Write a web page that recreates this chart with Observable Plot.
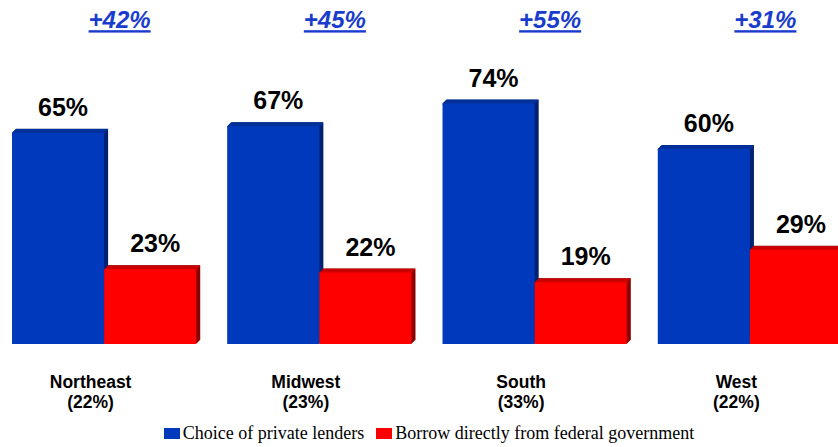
<!DOCTYPE html>
<html>
<head>
<meta charset="utf-8">
<script src="https://cdn.jsdelivr.net/npm/d3@7"></script>
<script src="https://cdn.jsdelivr.net/npm/@observablehq/plot@0.6"></script>
<style>
  html, body { margin: 0; padding: 0; background: #fff; overflow: hidden; }
  #chart { width: 838px; }
  .legend { display: flex; justify-content: center; align-items: center; height: 27px;
    font-family: "Liberation Serif", "Times New Roman", serif; font-size: 18px; color: #000; padding-left: 32px; }
  .legend span.sw { display: inline-block; width: 16px; height: 11px; margin-right: 3px; }
  .legend .item { display: inline-flex; align-items: center; margin-right: 12px; }
  g.gap-labels text { text-decoration: underline; }
</style>
</head>
<body>
<div id="chart"></div>
<script>
// ---- data ----
const regions = ["Northeast", "Midwest", "South", "West"];
const regionShare = [22, 23, 33, 22];
const privateLenders = [65, 67, 74, 60];
const federalGov = [23, 22, 19, 29];
const gaps = ["+42%", "+45%", "+55%", "+31%"];
const seriesNames = ["Choice of private lenders", "Borrow directly from federal government"];
const seriesKeys = ["private", "federal"];

const frontColors = { private: "#0039bb", federal: "#ff0000" };
const topColors = { private: "#00309a", federal: "#c80000" };
const sideColors = { private: "#002070", federal: "#8c0000" };

const rows = [];
regions.forEach((r, i) => {
  rows.push({ region: r, series: "private", value: privateLenders[i] });
  rows.push({ region: r, series: "federal", value: federalGov[i] });
});
const regionRows = regions.map((r, i) => ({ region: r, share: regionShare[i], gap: gaps[i] }));

const depthSteps = d3.range(0.5, 4.01, 0.5);

const marks = [];
// side (extrusion) faces
for (const k of depthSteps) {
  marks.push(Plot.rectY(rows, { fx: "region", x: "series", y: "value", fill: d => sideColors[d.series], dx: k, dy: -k, inset: 0 }));
}
// top faces
for (const k of depthSteps) {
  marks.push(Plot.tickY(rows, { fx: "region", x: "series", y: "value", stroke: d => topColors[d.series], strokeWidth: 1.2, dx: k - 0.5, dy: -k + 0.3 }));
}
// front faces
marks.push(Plot.barY(rows, { fx: "region", x: "series", y: "value", fill: d => frontColors[d.series], inset: 0 }));
// value labels
marks.push(Plot.text(rows, {
  fx: "region", x: "series", y: "value", text: d => d.value + "%",
  dy: -25.5, dx: 4.5, lineAnchor: "middle",
  fontSize: 25, fontWeight: "bold", fontFamily: "Liberation Sans, Arial, sans-serif", fill: "#000"
}));
// gap labels at top
marks.push(Plot.text(regionRows, {
  fx: "region", frameAnchor: "top", lineAnchor: "middle", text: "gap", dx: 15, dy: 1,
  fontSize: 24, fontWeight: "bold", fontStyle: "italic",
  fontFamily: "Liberation Sans, Arial, sans-serif", fill: "#1a3ccc", className: "gap-labels", ariaLabel: "gap-labels"
}));
// category labels
marks.push(Plot.text(regionRows, {
  fx: "region", frameAnchor: "bottom", lineAnchor: "top",
  text: d => d.region + "\n(" + d.share + "%)", dx: -14, dy: 30, lineHeight: 1.12,
  fontSize: 17.5, fontWeight: "bold", fontFamily: "Liberation Sans, Arial, sans-serif", fill: "#000"
}));

const plot = Plot.plot({
  width: 838,
  height: 420,
  marginLeft: 12,
  marginRight: -4,
  marginTop: 19,
  marginBottom: 76,
  style: { background: "transparent", overflow: "visible" },
  fx: { domain: regions, paddingInner: 31 / 215, paddingOuter: 0, axis: null, round: false },
  x: { domain: seriesKeys, padding: 0, axis: null, round: false },
  y: { domain: [0, 100], axis: null },
  marks
});

d3.select(plot).selectAll("g[aria-label='gap-labels'] text")
  .style("text-decoration", "underline")
  .style("text-decoration-thickness", "2px");

document.getElementById("chart").appendChild(plot);

const legend = document.createElement("div");
legend.className = "legend";
seriesKeys.forEach((k, i) => {
  const item = document.createElement("span");
  item.className = "item";
  const sw = document.createElement("span");
  sw.className = "sw";
  sw.style.background = frontColors[k];
  item.appendChild(sw);
  item.appendChild(document.createTextNode(seriesNames[i]));
  legend.appendChild(item);
});
document.getElementById("chart").appendChild(legend);
</script>
</body>
</html>
